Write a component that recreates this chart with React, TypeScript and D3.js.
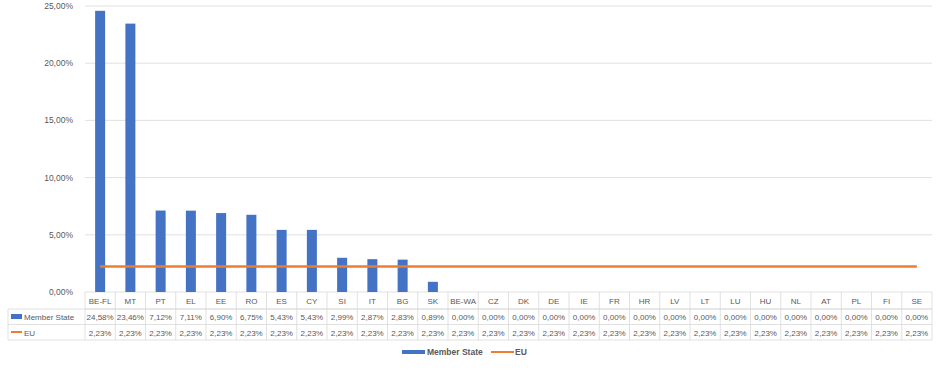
import React from "react";
import * as d3 from "d3";

const categories = ["BE-FL", "MT", "PT", "EL", "EE", "RO", "ES", "CY", "SI", "IT", "BG", "SK", "BE-WA", "CZ", "DK", "DE", "IE", "FR", "HR", "LV", "LT", "LU", "HU", "NL", "AT", "PL", "FI", "SE"];
const memberState = [24.58, 23.46, 7.12, 7.11, 6.9, 6.75, 5.43, 5.43, 2.99, 2.87, 2.83, 0.89, 0, 0, 0, 0, 0, 0, 0, 0, 0, 0, 0, 0, 0, 0, 0, 0];
const euValues = categories.map(() => 2.23);
const yTicks = [0, 5, 10, 15, 20, 25];

const BLUE = "#4472C4";
const ORANGE = "#ED7D31";
const GRID = "#d9d9d9";
const TEXT = "#595959";
const FONT = "'Liberation Sans', Arial, sans-serif";

const fmt = (v: number) => v.toFixed(2).replace(".", ",") + "%";

const App = () => {
  const width = 942;
  const height = 370;
  const left = 85;
  const right = 932;
  const top = 6;
  const bottom = 292;
  const rowH = 15.5;
  const labelX = 8;

  const x = d3.scaleBand<string>().domain(categories).range([left, right]);
  const y = d3.scaleLinear().domain([0, 25]).range([bottom, top]);
  const barW = 10;
  const bw = x.bandwidth();

  const line = d3
    .line<number>()
    .x((_, i) => (x(categories[i]) as number) + bw / 2)
    .y((d) => y(d));

  const headerBottom = bottom + 17;
  const row1Bottom = headerBottom + rowH;
  const row2Bottom = row1Bottom + rowH;

  return (
    <svg width={width} height={height} style={{ position: "absolute", left: 0, top: 0, background: "#fff" }} fontFamily={FONT}>
      {yTicks.map((t) => (
        <g key={t}>
          <line x1={left} x2={right} y1={y(t)} y2={y(t)} stroke={GRID} strokeWidth={0.8} />
          <text x={73} y={y(t) + 3} textAnchor="end" fontSize={8.5} fill={TEXT}>
            {fmt(t)}
          </text>
        </g>
      ))}

      {memberState.map((v, i) => (
        <rect
          key={categories[i]}
          x={(x(categories[i]) as number) + bw / 2 - barW / 2}
          y={y(v)}
          width={barW}
          height={bottom - y(v)}
          fill={BLUE}
        />
      ))}

      <path d={line(euValues) || ""} fill="none" stroke={ORANGE} strokeWidth={2.5} />

      {/* data table */}
      <g stroke={GRID} strokeWidth={0.8}>
        <line x1={left} x2={right} y1={headerBottom} y2={headerBottom} />
        <line x1={labelX} x2={right} y1={headerBottom} y2={headerBottom} />
        <line x1={labelX} x2={right} y1={row1Bottom} y2={row1Bottom} />
        <line x1={labelX} x2={right} y1={row2Bottom} y2={row2Bottom} />
        <line x1={labelX} x2={labelX} y1={headerBottom} y2={row2Bottom} />
        {categories.map((c) => (
          <line key={c} x1={x(c) as number} x2={x(c) as number} y1={bottom} y2={row2Bottom} />
        ))}
        <line x1={right} x2={right} y1={bottom} y2={row2Bottom} />
      </g>

      {categories.map((c, i) => {
        const cx = (x(c) as number) + bw / 2;
        return (
          <g key={c} fontSize={8} fill={TEXT} textAnchor="middle">
            <text x={cx} y={bottom + 12}>{c}</text>
            <text x={cx} y={headerBottom + 11}>{fmt(memberState[i])}</text>
            <text x={cx} y={row1Bottom + 11}>{fmt(euValues[i])}</text>
          </g>
        );
      })}

      <rect x={labelX + 3} y={headerBottom + 5} width={11} height={5} fill={BLUE} />
      <text x={labelX + 16} y={headerBottom + 11} fontSize={8} fill={TEXT}>Member State</text>
      <line x1={labelX + 3} x2={labelX + 14} y1={row1Bottom + 7.5} y2={row1Bottom + 7.5} stroke={ORANGE} strokeWidth={2} />
      <text x={labelX + 16} y={row1Bottom + 11} fontSize={8} fill={TEXT}>EU</text>

      {/* legend */}
      <rect x={402} y={350} width={23} height={4} fill={BLUE} />
      <text x={427} y={355} fontSize={8.5} fontWeight="bold" fill={TEXT}>Member State</text>
      <line x1={491} x2={514} y1={352} y2={352} stroke={ORANGE} strokeWidth={2} />
      <text x={515} y={355} fontSize={8.5} fontWeight="bold" fill={TEXT}>EU</text>
    </svg>
  );
};

export default App;
